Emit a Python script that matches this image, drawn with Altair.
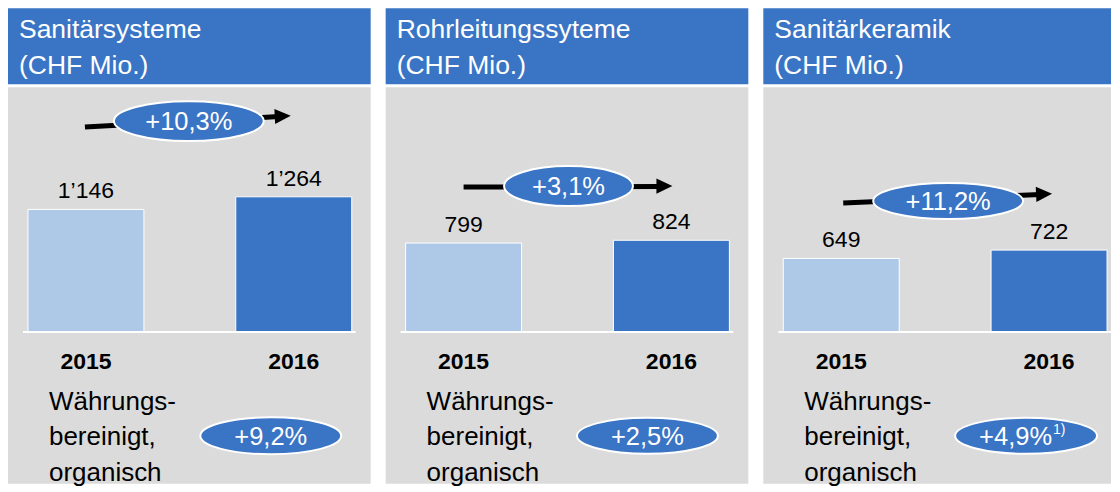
import altair as alt
import pandas as pd

# ---------------- data ----------------
titles = ["Sanitärsysteme\n(CHF Mio.)", "Rohrleitungssyteme\n(CHF Mio.)", "Sanitärkeramik\n(CHF Mio.)"]
years = ["2015", "2016"]
values_2015 = [1146, 799, 649]
values_2016 = [1264, 824, 722]
labels_2015 = ["1’146", "799", "649"]
labels_2016 = ["1’264", "824", "722"]
growth = ["+10,3%", "+3,1%", "+11,2%"]
organic = ["+9,2%", "+2,5%", "+4,9%"]
organic_note = ["", "", "1)"]
caption = "Währungs-\nbereinigt,\norganisch"

# ---------------- layout / style ----------------
FONT = "Liberation Sans"
BLUE = "#3A74C4"
LIGHT = "#AEC8E8"
GREY = "#DBDBDB"
PANEL_W = [363, 363, 348]
PANEL_H = 476
SPACING = 15
BASE = 324                      # pixel row of the bar baseline
PX_PER_UNIT = [0.1070, 0.1113, 0.1134]
ARROW = [  # x0, y0, tip_x, tip_y, angle
    (77, 119, 283, 108, 357),
    (78, 179, 287, 178, 0),
    (80, 195, 289, 186, 357.5),
]
GROWTH_ELL = [(181, 113, 150, 40), (183, 178, 129, 40), (185, 193, 150, 36)]
ORG_ELL = [(263, 428, 141, 37), (262, 428, 141, 36), (263, 428, 142, 36)]

TRI = "M 1 0 L -1 -0.95 L -1 0.95 Z"


def ellipse_path(ratio):
    k = 0.5523
    r = ratio
    return (f"M -1 0 C -1 {-k*r:.4f} {-k:.4f} {-r:.4f} 0 {-r:.4f} "
            f"C {k:.4f} {-r:.4f} 1 {-k*r:.4f} 1 0 "
            f"C 1 {k*r:.4f} {k:.4f} {r:.4f} 0 {r:.4f} "
            f"C {-k:.4f} {r:.4f} -1 {k*r:.4f} -1 0 Z")


def panel(i):
    W = PANEL_W[i]
    one = pd.DataFrame({"title": [titles[i]], "g": [growth[i]], "o": [organic[i]],
                        "n": [organic_note[i]], "c": [caption]})
    bars = pd.DataFrame({"year": years,
                         "value": [values_2015[i], values_2016[i]],
                         "label": [labels_2015[i], labels_2016[i]]})

    xs = alt.Scale(domain=years, range=[0, 364], paddingInner=0.442, paddingOuter=0.096)
    ys = alt.Scale(domain=[0, BASE / PX_PER_UNIT[i]], range=[BASE, 0], nice=False, zero=True)
    X = alt.X("year:N", scale=xs, axis=None)
    Y = alt.Y("value:Q", scale=ys, axis=None)

    base1 = alt.Chart(one)
    header = base1.mark_rect(color=BLUE).encode(
        x=alt.value(0), x2=alt.value(W), y=alt.value(0), y2=alt.value(76))
    body = base1.mark_rect(color=GREY).encode(
        x=alt.value(0), x2=alt.value(W), y=alt.value(79), y2=alt.value(PANEL_H))
    head_txt = base1.mark_text(align="left", baseline="alphabetic", font=FONT, fontSize=26.5,
                               color="white", lineBreak="\n", lineHeight=35.7).encode(
        x=alt.value(11), y=alt.value(30), text="title:N")

    bchart = alt.Chart(bars)
    bar = bchart.mark_bar(stroke="white", strokeWidth=1).encode(
        x=X, y=Y, y2=alt.datum(0),
        color=alt.Color("year:N", scale=alt.Scale(domain=years, range=[LIGHT, BLUE]), legend=None))
    val = bchart.mark_text(baseline="alphabetic", dy=-11, font=FONT, fontSize=23, color="black").encode(
        x=X, y=Y, text="label:N")
    yr = bchart.mark_text(baseline="alphabetic", font=FONT, fontSize=23, fontWeight="bold",
                          color="black").encode(x=X, y=alt.value(361), text="year:N")
    baseline = base1.mark_rule(color="white", strokeWidth=2).encode(
        x=alt.value(15), x2=alt.value(348), y=alt.value(BASE))

    x0, y0, tx, ty, ang = ARROW[i]
    line = base1.mark_rule(color="black", strokeWidth=5).encode(
        x=alt.value(x0), x2=alt.value(tx - 12), y=alt.value(y0), y2=alt.value(ty + 0.5))
    head = base1.mark_point(shape=TRI, filled=True, color="black", opacity=1, size=256,
                            angle=ang).encode(x=alt.value(tx - 8), y=alt.value(ty))

    gx, gy, gw, gh = GROWTH_ELL[i]
    gell = base1.mark_point(shape=ellipse_path(gh / gw), filled=True, fill=BLUE, stroke="white",
                            strokeWidth=2, opacity=1, fillOpacity=1, size=gw * gw).encode(
        x=alt.value(gx), y=alt.value(gy))
    gtxt = base1.mark_text(baseline="middle", font=FONT, fontSize=25.5, color="white").encode(
        x=alt.value(gx), y=alt.value(gy + 1), text="g:N")

    cap = base1.mark_text(align="left", baseline="alphabetic", font=FONT, fontSize=26,
                          color="black", lineBreak="\n", lineHeight=35.5).encode(
        x=alt.value(41), y=alt.value(402), text="c:N")

    ox, oy, ow, oh = ORG_ELL[i]
    oell = base1.mark_point(shape=ellipse_path(oh / ow), filled=True, fill=BLUE, stroke="white",
                            strokeWidth=2, opacity=1, fillOpacity=1, size=ow * ow).encode(
        x=alt.value(ox), y=alt.value(oy))
    layers = [body, header, head_txt, bar, baseline, val, yr, line, head, gell, gtxt, cap, oell]
    if organic_note[i]:
        otxt = base1.mark_text(align="right", baseline="middle", font=FONT, fontSize=25.5,
                               color="white").encode(x=alt.value(ox + 26), y=alt.value(oy + 1), text="o:N")
        note = base1.mark_text(align="left", baseline="alphabetic", font=FONT, fontSize=14,
                               color="white").encode(x=alt.value(ox + 27), y=alt.value(oy - 2), text="n:N")
        layers += [otxt, note]
    else:
        otxt = base1.mark_text(baseline="middle", font=FONT, fontSize=25.5, color="white").encode(
            x=alt.value(ox), y=alt.value(oy + 1), text="o:N")
        layers += [otxt]

    return alt.layer(*layers).properties(width=W, height=PANEL_H)


chart = alt.hconcat(*[panel(i) for i in range(3)], spacing=SPACING).properties(
    padding=0, background="white"
).configure_view(strokeWidth=0).resolve_scale(x="independent", y="independent", color="independent")

chart.save("out.html", embed_options={"renderer": "svg", "actions": False})
